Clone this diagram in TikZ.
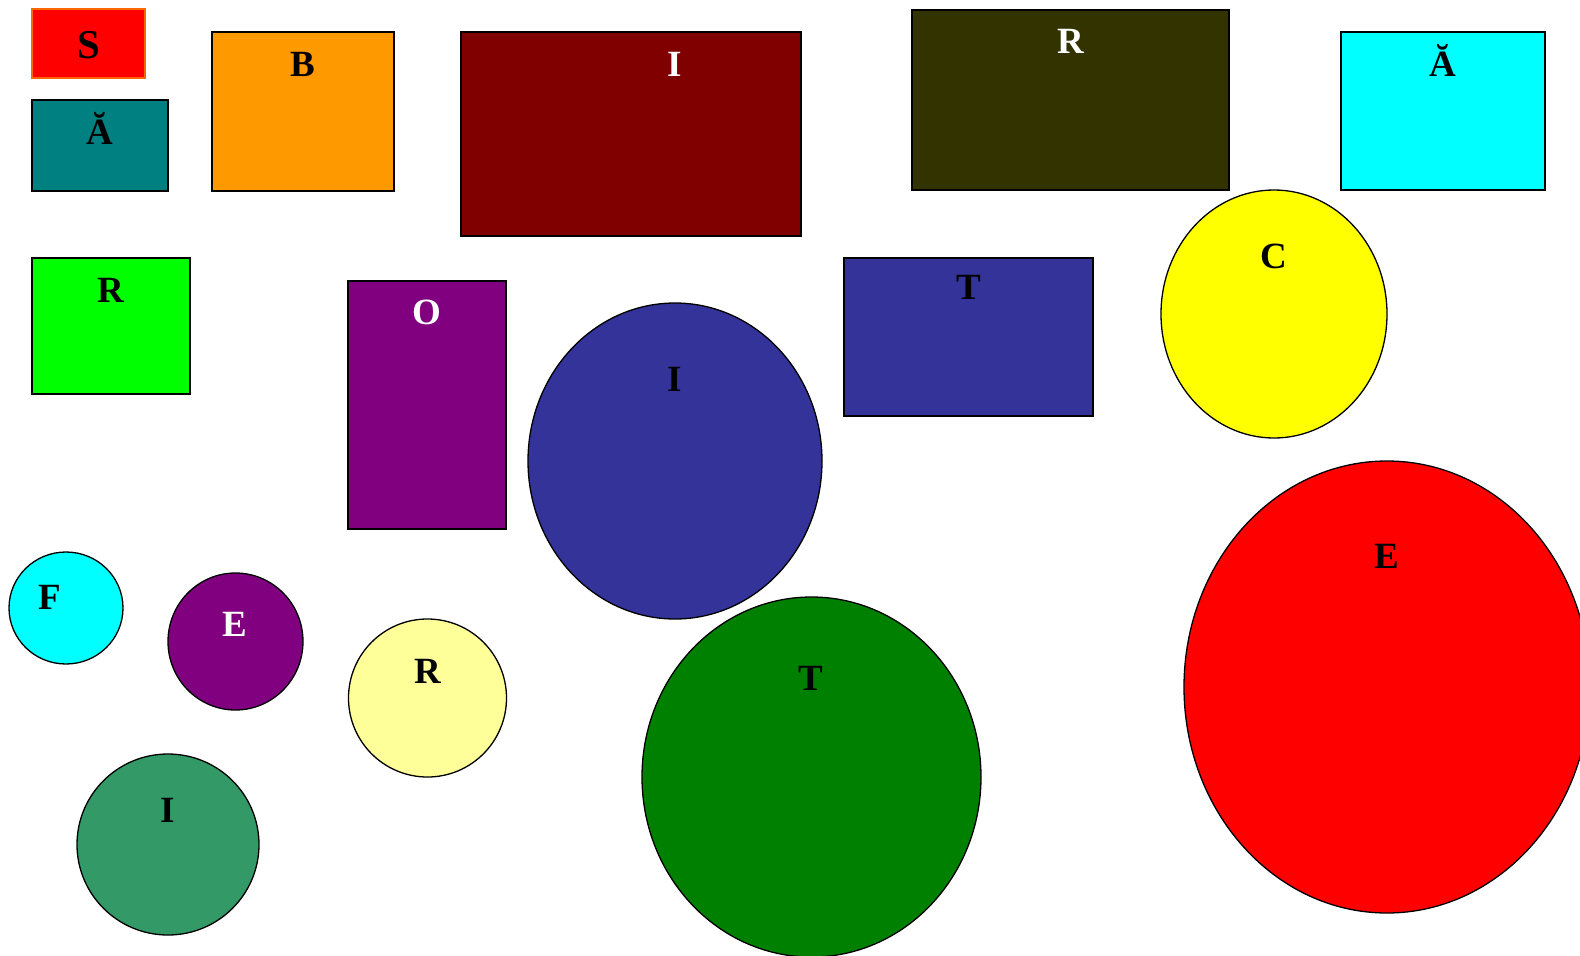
\documentclass[tikz,border=0pt]{standalone}
\usepackage{fontspec}
\setmainfont{Liberation Serif}
\usetikzlibrary{shapes.geometric}
\definecolor{cSfill}{RGB}{255,0,0}
\definecolor{cSline}{RGB}{255,102,0}
\definecolor{cTeal}{RGB}{0,128,128}
\definecolor{cOrange}{RGB}{255,153,0}
\definecolor{cMaroon}{RGB}{128,0,0}
\definecolor{cOlive}{RGB}{51,51,0}
\definecolor{cCyan}{RGB}{0,255,255}
\definecolor{cLime}{RGB}{0,255,0}
\definecolor{cPurple}{RGB}{128,0,128}
\definecolor{cBlue}{RGB}{51,51,153}
\definecolor{cYellow}{RGB}{255,255,0}
\definecolor{cRed}{RGB}{255,0,0}
\definecolor{cLightYellow}{RGB}{255,255,153}
\definecolor{cGreen}{RGB}{0,128,0}
\definecolor{cSea}{RGB}{51,153,102}
\tikzset{
  box/.style={rectangle, draw=black, line width=1.3pt, inner sep=0pt},
  oval/.style={ellipse, draw=black, line width=1.3pt, inner sep=0pt},
  lbl/.style={anchor=base, inner sep=0pt, font=\fontsize{37}{40}\selectfont\bfseries, text=black},
  wlbl/.style={lbl, text=white}
}
\begin{document}
\begin{tikzpicture}[x=1pt,y=-1pt]
\clip (0,0) rectangle (1580,956);
\fill[white] (0,0) rectangle (1580,956);
% rectangles
\node[box, fill=cSfill, draw=cSline, minimum width=113pt, minimum height=69pt] (bS) at (88.5,43.5) {};
\node[box, fill=cTeal, minimum width=136pt, minimum height=91pt] (bA1) at (100,145.5) {};
\node[box, fill=cOrange, minimum width=182pt, minimum height=159pt] (bB) at (303,111.5) {};
\node[box, fill=cMaroon, minimum width=340pt, minimum height=204pt] (bI1) at (631,134) {};
\node[box, fill=cOlive, minimum width=317pt, minimum height=180pt] (bR1) at (1070.5,100) {};
\node[box, fill=cCyan, minimum width=204pt, minimum height=158pt] (bA2) at (1443,111) {};
\node[box, fill=cLime, minimum width=158pt, minimum height=136pt] (bR2) at (111,326) {};
\node[box, fill=cPurple, minimum width=158pt, minimum height=248pt] (bO) at (427,405) {};
\node[box, fill=cBlue, minimum width=249pt, minimum height=158pt] (bT1) at (968.5,337) {};
% ellipses
\node[oval, fill=cBlue, minimum width=294pt, minimum height=316pt] (eI2) at (675,461) {};
\node[oval, fill=cYellow, minimum width=226pt, minimum height=248pt] (eC) at (1274,314) {};
\node[oval, fill=cRed, minimum width=406pt, minimum height=452pt] (eE1) at (1387,687) {};
\node[oval, fill=cCyan, minimum width=114pt, minimum height=112pt] (eF) at (66,608) {};
\node[oval, fill=cPurple, minimum width=135pt, minimum height=137pt] (eE2) at (235.5,641.5) {};
\node[oval, fill=cLightYellow, minimum width=158pt, minimum height=158pt] (eR3) at (427.5,698) {};
\node[oval, fill=cGreen, minimum width=339pt, minimum height=360pt] (eT2) at (811.5,777) {};
\node[oval, fill=cSea, minimum width=182pt, minimum height=181pt] (eI3) at (168,844.5) {};
% labels
\node[lbl, font=\fontsize{41}{44}\selectfont\bfseries] (tS) at (89,58) {S};
\node[lbl] (tA1) at (100,144) {Ă};
\node[lbl] (tB) at (303,76) {B};
\node[wlbl] (tI1) at (675,76) {I};
\node[wlbl] (tR1) at (1071,53) {R};
\node[lbl] (tA2) at (1443,76) {Ă};
\node[lbl] (tR2) at (111,302) {R};
\node[wlbl] (tO) at (427,324) {O};
\node[lbl] (tI2) at (675,391) {I};
\node[lbl] (tT1) at (969,299) {T};
\node[lbl] (tC) at (1274,268) {C};
\node[lbl] (tE1) at (1387,568) {E};
\node[lbl] (tF) at (50,609) {F};
\node[wlbl] (tE2) at (235,636) {E};
\node[lbl] (tR3) at (428,683) {R};
\node[lbl] (tT2) at (811,690) {T};
\node[lbl] (tI3) at (168,822) {I};
\end{tikzpicture}
\end{document}
